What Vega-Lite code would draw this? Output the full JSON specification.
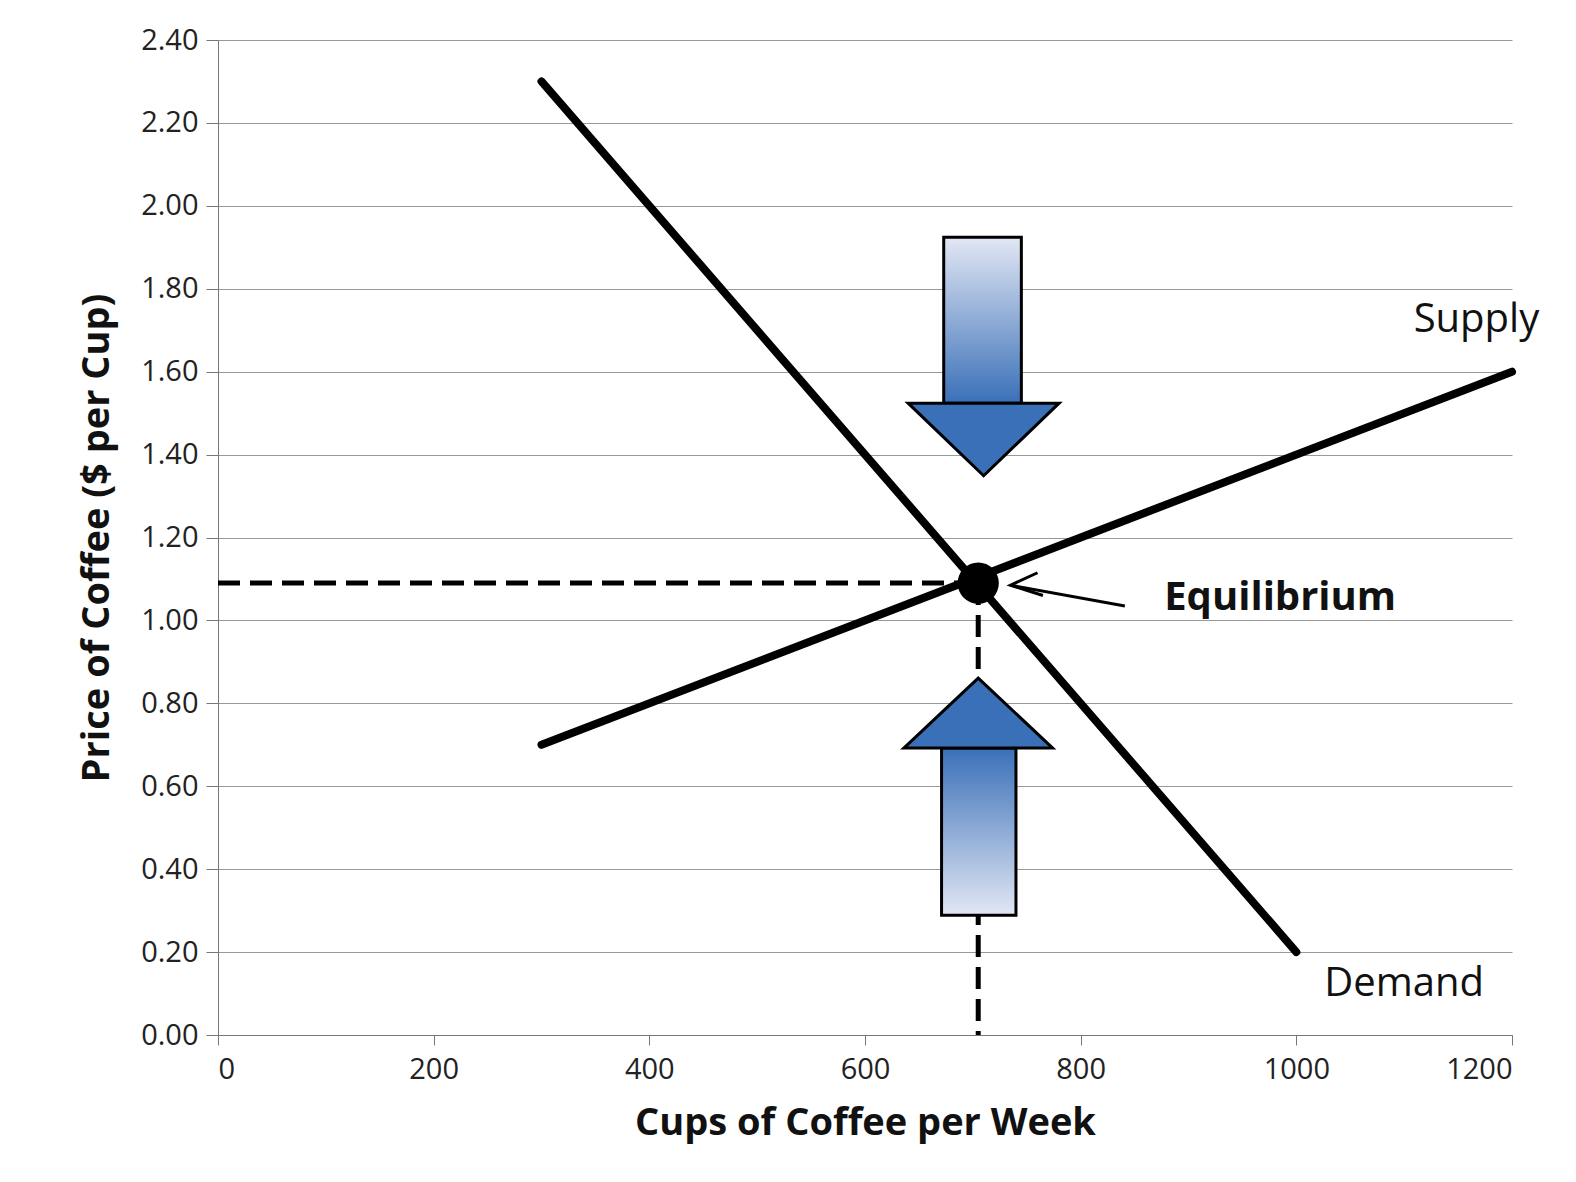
{
  "$schema": "https://vega.github.io/schema/vega-lite/v6.json",
  "width": 1294,
  "height": 995,
  "autosize": "none",
  "padding": {"left": 218, "top": 40, "right": 64, "bottom": 147},
  "background": "white",
  "config": {
    "view": {"stroke": null},
    "font": "Open Sans",
    "axis": {"labelFont": "Open Sans", "titleFont": "Open Sans", "labelFontSize": 29, "titleFontSize": 38, "titleFontWeight": "bold", "labelColor": "#222", "titleColor": "#111"}
  },
  "datasets": {
    "curves": [
      {"curve": "Demand", "q": 300, "p": 2.30},
      {"curve": "Demand", "q": 1000, "p": 0.20},
      {"curve": "Supply", "q": 300, "p": 0.70},
      {"curve": "Supply", "q": 1200, "p": 1.60}
    ],
    "dashes": [
      {"seg": "h", "q": 0, "p": 1.09},
      {"seg": "h", "q": 705, "p": 1.09},
      {"seg": "v", "q": 705, "p": 1.09},
      {"seg": "v", "q": 705, "p": 0}
    ],
    "shafts": [
      {"dir": "down", "q1": 673, "q2": 745, "p1": 1.924, "p2": 1.524},
      {"dir": "up", "q1": 671, "q2": 740, "p1": 0.692, "p2": 0.289}
    ],
    "downHead": [
      {"q": 640, "top": 1.524, "bot": 1.524},
      {"q": 710, "top": 1.524, "bot": 1.349},
      {"q": 780, "top": 1.524, "bot": 1.524}
    ],
    "upHead": [
      {"q": 636, "top": 0.692, "bot": 0.692},
      {"q": 705, "top": 0.861, "bot": 0.692},
      {"q": 774, "top": 0.692, "bot": 0.692}
    ],
    "pointer": [
      {"seg": "shaft", "o": 0, "q": 841, "p": 1.035},
      {"seg": "shaft", "o": 1, "q": 735, "p": 1.085},
      {"seg": "head", "o": 0, "q": 760, "p": 1.115},
      {"seg": "head", "o": 1, "q": 735, "p": 1.085},
      {"seg": "head", "o": 2, "q": 765, "p": 1.06}
    ],
    "eq": [{"q": 705, "p": 1.09}],
    "labels": [
      {"label": "Supply", "q": 1167, "p": 1.725, "w": "normal"},
      {"label": "Demand", "q": 1100, "p": 0.124, "w": "normal"},
      {"label": "Equilibrium", "q": 985, "p": 1.053, "w": "bold"}
    ]
  },
  "encoding": {
    "x": {"field": "q", "type": "quantitative", "scale": {"domain": [0, 1200]},
      "axis": {"title": "Cups of Coffee per Week", "format": "d", "grid": false, "values": [0,200,400,600,800,1000,1200], "tickSize": 10, "domainColor": "#777", "tickColor": "#777", "labelPadding": 10, "titlePadding": 20}},
    "y": {"field": "p", "type": "quantitative", "scale": {"domain": [0, 2.4]},
      "axis": {"title": "Price of Coffee ($ per Cup)", "format": ".2f", "values": [0,0.2,0.4,0.6,0.8,1,1.2,1.4,1.6,1.8,2,2.2,2.4], "grid": true, "gridColor": "#999", "domainColor": "#777", "tickColor": "#777", "tickSize": 12, "labelPadding": 8, "titlePadding": 24}}
  },
  "layer": [
    {"data": {"name": "dashes"}, "mark": {"type": "line", "color": "black", "strokeWidth": 5, "strokeDash": [22, 10], "clip": false},
      "encoding": {"detail": {"field": "seg"}}},
    {"data": {"name": "curves"}, "mark": {"type": "line", "color": "black", "strokeWidth": 8, "strokeCap": "round", "clip": false},
      "encoding": {"detail": {"field": "curve"}}},
    {"data": {"name": "shafts"}, "transform": [{"filter": "datum.dir == 'down'"}],
      "mark": {"type": "rect", "stroke": "black", "strokeWidth": 3,
        "fill": {"gradient": "linear", "x1": 0, "y1": 0, "x2": 0, "y2": 1, "stops": [{"offset": 0, "color": "#e2e7f4"}, {"offset": 1, "color": "#3a70b8"}]}},
      "encoding": {"x": {"field": "q1", "type": "quantitative"}, "x2": {"field": "q2"}, "y": {"field": "p1", "type": "quantitative"}, "y2": {"field": "p2"}}},
    {"data": {"name": "shafts"}, "transform": [{"filter": "datum.dir == 'up'"}],
      "mark": {"type": "rect", "stroke": "black", "strokeWidth": 3,
        "fill": {"gradient": "linear", "x1": 0, "y1": 0, "x2": 0, "y2": 1, "stops": [{"offset": 0, "color": "#3a70b8"}, {"offset": 1, "color": "#e2e7f4"}]}},
      "encoding": {"x": {"field": "q1", "type": "quantitative"}, "x2": {"field": "q2"}, "y": {"field": "p1", "type": "quantitative"}, "y2": {"field": "p2"}}},
    {"data": {"name": "downHead"}, "mark": {"type": "area", "fill": "#3a70b8", "stroke": "black", "strokeWidth": 3, "orient": "vertical"},
      "encoding": {"y": {"field": "top", "type": "quantitative"}, "y2": {"field": "bot"}}},
    {"data": {"name": "upHead"}, "mark": {"type": "area", "fill": "#3a70b8", "stroke": "black", "strokeWidth": 3, "orient": "vertical"},
      "encoding": {"y": {"field": "top", "type": "quantitative"}, "y2": {"field": "bot"}}},
    {"data": {"name": "pointer"}, "mark": {"type": "line", "color": "black", "strokeWidth": 3},
      "encoding": {"detail": {"field": "seg"}, "order": {"field": "o"}}},
    {"data": {"name": "eq"}, "mark": {"type": "circle", "color": "black", "opacity": 1, "size": 1700}},
    {"data": {"name": "labels"}, "transform": [{"filter": "datum.w == 'normal'"}],
      "mark": {"type": "text", "fontSize": 40, "color": "#111", "clip": false},
      "encoding": {"text": {"field": "label"}}},
    {"data": {"name": "labels"}, "transform": [{"filter": "datum.w == 'bold'"}],
      "mark": {"type": "text", "fontSize": 40, "fontWeight": "bold", "color": "#111", "clip": false},
      "encoding": {"text": {"field": "label"}}}
  ]
}
